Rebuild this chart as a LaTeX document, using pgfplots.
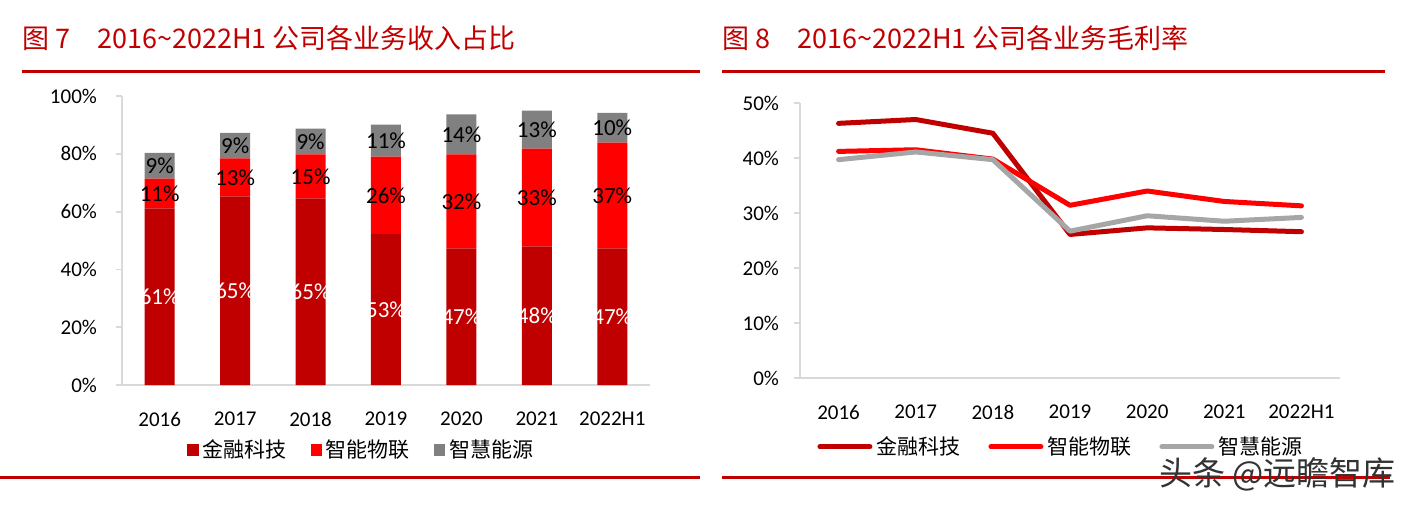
\documentclass[border=0pt]{standalone}
\usepackage{pgfplots}
\pgfplotsset{compat=1.18}
\usepackage{pgfplotstable}
\usepackage{fontspec}
\setmainfont{Carlito}
\newfontfamily\cjk{Noto Sans CJK SC}
\definecolor{finred}{HTML}{C00000}
\definecolor{iotred}{HTML}{FF0000}
\definecolor{enggray}{HTML}{808080}
\definecolor{lngray}{HTML}{A6A6A6}
\definecolor{axgray}{HTML}{D9D9D9}

% revenue share, stacked segments (label = printed percent)
\pgfplotstableread{
x y lab
0 61.1 61
1 65.3 65
2 64.6 65
3 52.2 53
4 47.3 47
5 48.0 48
6 47.3 47
}\sharefin
\pgfplotstableread{
x y lab
0 10.3 11
1 13.1 13
2 15.2 15
3 26.8 26
4 32.5 32
5 33.8 33
6 36.6 37
}\shareiot
\pgfplotstableread{
x y lab
0 8.9 9
1 8.8 9
2 8.9 9
3 11.1 11
4 13.8 14
5 13.1 13
6 10.3 10
}\shareeng

% gross margin
\pgfplotstableread{
x fin iot eng
0 46.3 41.2 39.7
1 47.0 41.5 41.1
2 44.5 39.8 39.7
3 26.1 31.4 26.7
4 27.3 34.0 29.5
5 27.0 32.1 28.5
6 26.6 31.3 29.2
}\margin

\begin{document}
\begin{tikzpicture}
\path[use as bounding box] (0,0) rectangle (701pt,252pt);

% titles and rules
\node[anchor=west, text=finred, font=\cjk\fontsize{13.5}{15}\selectfont, inner sep=0pt]
  at (11pt,233pt) {图 7\quad 2016\textasciitilde 2022H1 公司各业务收入占比};
\node[anchor=west, text=finred, font=\cjk\fontsize{13.5}{15}\selectfont, inner sep=0pt]
  at (361pt,233pt) {图 8\quad 2016\textasciitilde 2022H1 公司各业务毛利率};
\draw[finred, line width=1.5pt] (11pt,216pt) -- (350pt,216pt);
\draw[finred, line width=1.5pt] (361pt,216pt) -- (692.5pt,216pt);
\draw[finred, line width=1.5pt] (0pt,13.5pt) -- (350pt,13.5pt);
\draw[finred, line width=1.5pt] (361pt,13.5pt) -- (695pt,13.5pt);

\begin{axis}[
  at={(61pt,59.5pt)}, anchor=south west,
  scale only axis, width=264pt, height=144.5pt,
  ybar stacked, bar width=15pt,
  xmin=-0.5, xmax=6.5, ymin=0, ymax=100,
  xtick={0,...,6}, xticklabels={2016,2017,2018,2019,2020,2021,2022H1},
  ytick={0,20,...,100}, yticklabels={0\%,20\%,40\%,60\%,80\%,100\%},
  axis x line*=bottom, axis y line*=left,
  axis line style={axgray, line width=0.9pt, -},
  xtick style={draw=none},
  ytick style={axgray, line width=0.9pt},
  tick align=outside, major tick length=3pt,
  tick label style={font=\fontsize{10.5}{12}\selectfont},
  xticklabel style={yshift=-7pt},
  yticklabel style={xshift=-6pt},
  point meta=explicit symbolic,
  nodes near coords={\pgfplotspointmeta\%},
  every node near coord/.append style={font=\fontsize{11.5}{12}\selectfont,
    anchor=center},
  legend columns=3,
  legend image code/.code={\fill[#1] (0pt,-2.8pt) rectangle (5.6pt,2.8pt);},
  legend style={draw=none, fill=none, at={(axis description cs:0.455,-0.225)},
    anchor=center, font=\cjk\fontsize{10.5}{12}\selectfont,
    /tikz/every even column/.append style={column sep=10pt}},
]
\addplot[fill=finred, draw=none, every node near coord/.append style={text=white}]
  table[x=x, y=y, meta=lab]{\sharefin};
\addlegendentry{金融科技}
\addplot[fill=iotred, draw=none, every node near coord/.append style={text=black}]
  table[x=x, y=y, meta=lab]{\shareiot};
\addlegendentry{智能物联}
\addplot[fill=enggray, draw=none, every node near coord/.append style={text=black}]
  table[x=x, y=y, meta=lab]{\shareeng};
\addlegendentry{智慧能源}
\end{axis}

\begin{axis}[
  at={(400pt,63pt)}, anchor=south west,
  scale only axis, width=270pt, height=137.5pt,
  xmin=-0.5, xmax=6.5, ymin=0, ymax=50,
  xtick={0,...,6}, xticklabels={2016,2017,2018,2019,2020,2021,2022H1},
  ytick={0,10,...,50}, yticklabels={0\%,10\%,20\%,30\%,40\%,50\%},
  axis x line*=bottom, axis y line*=left,
  axis line style={axgray, line width=0.9pt, -},
  xtick style={draw=none},
  ytick style={axgray, line width=0.9pt},
  tick align=outside, major tick length=3pt,
  tick label style={font=\fontsize{10.5}{12}\selectfont},
  xticklabel style={yshift=-7pt},
  yticklabel style={xshift=-4pt},
  legend columns=3,
  legend image code/.code={\draw[#1, line width=2.5pt] (0pt,0pt) -- (25pt,0pt);},
  legend style={draw=none, fill=none, at={(axis description cs:0.485,-0.25)},
    anchor=center, font=\cjk\fontsize{10.5}{12}\selectfont,
    /tikz/every even column/.append style={column sep=12pt}},
]
\addplot[finred, line width=2.5pt, line cap=round, line join=round]
  table[x=x, y=fin]{\margin};
\addlegendentry{金融科技}
\addplot[iotred, line width=2.5pt, line cap=round, line join=round]
  table[x=x, y=iot]{\margin};
\addlegendentry{智能物联}
\addplot[lngray, line width=2.5pt, line cap=round, line join=round]
  table[x=x, y=eng]{\margin};
\addlegendentry{智慧能源}
\end{axis}

\node[anchor=east, font=\cjk\fontsize{16.5}{20}\selectfont, text=black!80, inner sep=0pt]
  at (698pt,15pt) {头条 @远瞻智库};
\end{tikzpicture}
\end{document}
